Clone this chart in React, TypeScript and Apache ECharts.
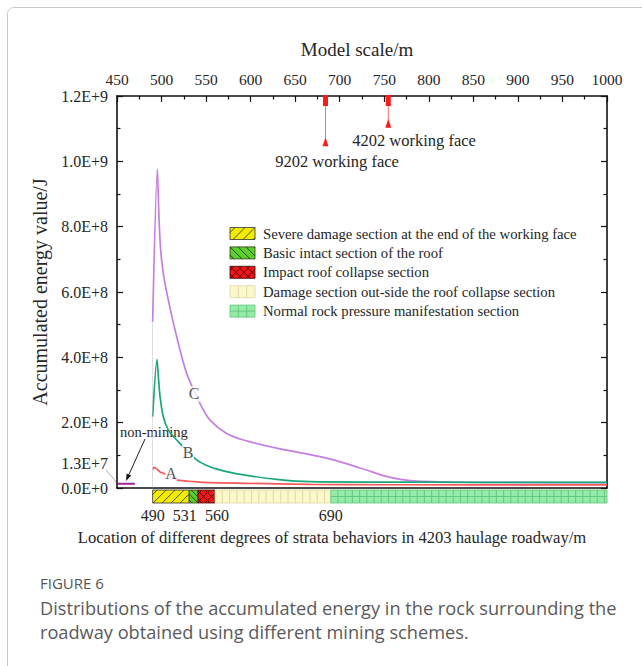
import React, { useEffect, useRef } from "react";
import * as echarts from "echarts";

// ---------- data ----------
const curveCX = [490, 495.3, 497.1, 499, 502, 507.6, 517, 528.2, 545, 554.4, 573, 592, 629, 660, 693, 730, 749, 768, 786, 824, 900, 1000];
const curveCV = [5.09e8, 9.76e8, 8.3e8, 7.29e8, 6.57e8, 5.75e8, 4.63e8, 3.51e8, 2.49e8, 2.08e8, 1.67e8, 1.47e8, 1.22e8, 1.06e8, 8.6e7, 5.5e7, 3.8e7, 2.66e7, 2.14e7, 1.84e7, 1.7e7, 1.62e7];

const curveBX = [490, 494.9, 496.7, 498.3, 502, 507.6, 517, 539.4, 554.4, 573, 592, 629, 667, 750, 850, 1000];
const curveBV = [2.18e8, 3.94e8, 3.31e8, 2.8e8, 2.18e8, 1.78e8, 1.47e8, 8.6e7, 6.5e7, 5.0e7, 4.0e7, 2.66e7, 1.93e7, 1.8e7, 1.75e7, 1.72e7];

const curveAX = [490, 491.8, 498, 502, 510, 517, 536, 554, 592, 667, 750, 1000];
const curveAV = [5.7e7, 6.3e7, 5.0e7, 4.5e7, 3.4e7, 2.5e7, 1.93e7, 1.62e7, 1.44e7, 1.13e7, 1.0e7, 9.5e6];

const nonMiningX = [451, 470];
const nonMiningV = [1.3e7, 1.3e7];

const curveLabelNames = ["C", "B", "A"];
const curveLabelX = [536.4, 529.7, 510.6];
const curveLabelV = [2.88e8, 1.1e8, 4.3e7];

const sectionStart = [490, 531, 541, 560, 690];
const sectionEnd = [531, 541, 560, 690, 1000];
const sectionNames = [
  "Severe damage section at the end of the working face",
  "Basic intact section of the roof",
  "Impact roof collapse section",
  "Damage section out-side the roof collapse section",
  "Normal rock pressure manifestation section",
];
const roadwayTicks = [490, 531, 560, 690];

const faceX = [684, 754.5];
const faceTipV = [1.074e9, 1.13e9];
const faceNames = ["9202 working face", "4202 working face"];

// ---------- styles ----------
const SERIF = "'Liberation Serif','Times New Roman',serif";
const SANS = "'Open Sans','Noto Sans',sans-serif";
const TXT = "#262626";
const AX = "#111";

const sectionFill = ["#f3ec00", "#5ccf2a", "#f21616", "#fbf8cc", "#95eba8"];
const sectionStroke = ["#333", "#2d3a1a", "#3a0a0a", "#dcd8a4", "#62c47c"];
const sectionPattern = ["fwd", "back", "cross", "vert", "grid"];
const patternColor = ["#2a2a10", "#1a2a10", "#300", "#d8d39a", "#5cbf77"];
const stripSpacing = [9, 6, 8, 7.3, 7.2];
const legendSpacing = [10, 8, 8, 8.3, 8.3];

function hatchLines(x0: number, y0: number, w: number, h: number, pat: string, sp: number) {
  const out: any[] = [];
  const x1 = x0 + w;
  const yb = y0 + h;
  const diag = (dir: number) => {
    for (let c = -h + sp / 2; c < w; c += sp) {
      let ax = x0 + c;
      let bx = x0 + c + h;
      let ay = dir > 0 ? yb : y0;
      let by = dir > 0 ? y0 : yb;
      if (ax < x0) {
        const d = x0 - ax;
        ax = x0;
        ay = dir > 0 ? ay - d : ay + d;
      }
      if (bx > x1) {
        const d = bx - x1;
        bx = x1;
        by = dir > 0 ? by + d : by - d;
      }
      if (bx > ax) out.push({ x1: ax, y1: ay, x2: bx, y2: by });
    }
  };
  if (pat === "fwd") diag(1);
  if (pat === "back") diag(-1);
  if (pat === "cross") {
    diag(1);
    diag(-1);
  }
  if (pat === "vert" || pat === "grid") {
    for (let x = x0 + sp; x < x1 - 0.5; x += sp) out.push({ x1: x, y1: y0, x2: x, y2: yb });
  }
  if (pat === "grid") {
    const yc = y0 + h / 2;
    out.push({ x1: x0, y1: yc, x2: x1, y2: yc });
  }
  return out;
}

function patchChildren(i: number, x0: number, y0: number, w: number, h: number, sp: number) {
  const lines = hatchLines(x0, y0, w, h, sectionPattern[i], sp).map((l) => ({
    type: "line",
    shape: l,
    style: { stroke: patternColor[i], lineWidth: 0.8 },
  }));
  return [
    { type: "rect", shape: { x: x0, y: y0, width: w, height: h }, style: { fill: sectionFill[i], stroke: "none" } },
    ...lines,
    { type: "rect", shape: { x: x0, y: y0, width: w, height: h }, style: { fill: "none", stroke: sectionStroke[i], lineWidth: 0.8 } },
  ];
}

function textStyle(text: string, size: number, align: string, family = SERIF, fill = TXT) {
  return {
    text,
    fill,
    fontSize: size,
    fontFamily: family,
    align,
    verticalAlign: "middle",
    textAlign: align,
    textVerticalAlign: "middle",
  };
}

const bottomLabelBase = { fontSize: 16, fontFamily: SERIF, color: TXT };

export default function App() {
  const ref = useRef<HTMLDivElement>(null);

  useEffect(() => {
    if (!ref.current) return;
    const chart = echarts.init(ref.current, undefined, { renderer: "svg" });

    const legendGraphics: any[] = sectionNames.map((name, i) => {
      const y = 233.5 + i * 19.4;
      return {
        type: "group",
        children: [
          ...patchChildren(i, 230, y - 6, 25, 12, legendSpacing[i]),
          { type: "text", x: 263, y, style: textStyle(name, 14.7, "left") },
        ],
      };
    });

    const option: any = {
      animation: false,
      backgroundColor: "#ffffff",
      textStyle: { fontFamily: SERIF },
      grid: [
        { left: 117, top: 96, width: 490, height: 392, containLabel: false, outerBoundsMode: "none" },
        { left: 117, top: 490, width: 490, height: 13, containLabel: false, outerBoundsMode: "none" },
      ],
      xAxis: [
        {
          type: "value",
          gridIndex: 0,
          position: "top",
          min: 450,
          max: 1000,
          interval: 50,
          name: "Model scale/m",
          nameLocation: "middle",
          nameGap: 37,
          nameTextStyle: { fontSize: 19, color: TXT, fontFamily: SERIF, padding: [0, 10, 0, 0] },
          axisLine: { show: true, onZero: false, lineStyle: { color: AX, width: 1.6 } },
          axisTick: { show: true, inside: true, length: 6, lineStyle: { color: AX, width: 1.2 } },
          minorTick: { show: true, splitNumber: 2, length: 3.5, lineStyle: { color: AX, width: 1.2 } },
          axisLabel: {
            show: true,
            margin: 9,
            color: TXT,
            fontSize: 15.5,
            fontFamily: SERIF,
            formatter: (v: number) => String(v),
          },
          splitLine: { show: false },
        },
        {
          type: "value",
          gridIndex: 0,
          position: "bottom",
          min: 450,
          max: 1000,
          axisLine: { show: true, onZero: false, lineStyle: { color: AX, width: 1.6 } },
          axisTick: { show: false },
          axisLabel: { show: false },
          splitLine: { show: false },
        },
        {
          type: "value",
          gridIndex: 1,
          position: "bottom",
          min: 450,
          max: 1000,
          axisLine: { show: false },
          axisTick: { show: false },
          splitLine: { show: false },
          axisLabel: {
            show: true,
            customValues: roadwayTicks,
            margin: 4,
            ...bottomLabelBase,
            formatter: (v: number) => (v === 531 ? "{l|531}" : v === 560 ? "{r|560}" : "{c|" + v + "}"),
            rich: {
              c: { ...bottomLabelBase },
              l: { ...bottomLabelBase, padding: [0, 9, 0, 0] },
              r: { ...bottomLabelBase, padding: [0, 0, 0, 4] },
            },
          },
        },
      ],
      yAxis: [
        {
          type: "value",
          gridIndex: 0,
          position: "left",
          min: 0,
          max: 1.2e9,
          interval: 2e8,
          name: "Accumulated energy value/J",
          nameLocation: "middle",
          nameGap: 61,
          nameTextStyle: { fontSize: 20, color: TXT, fontFamily: SERIF },
          axisLine: { show: true, onZero: false, lineStyle: { color: AX, width: 1.6 } },
          axisTick: { show: true, inside: true, length: 6, lineStyle: { color: AX, width: 1.2 } },
          minorTick: { show: true, splitNumber: 2, length: 3.5, lineStyle: { color: AX, width: 1.2 } },
          axisLabel: {
            margin: 9,
            color: TXT,
            fontSize: 16,
            fontFamily: SERIF,
            formatter: (v: number) => v.toExponential(1).toUpperCase(),
          },
          splitLine: { show: false },
        },
        {
          type: "value",
          gridIndex: 0,
          position: "right",
          min: 0,
          max: 1.2e9,
          interval: 2e8,
          axisLine: { show: true, onZero: false, lineStyle: { color: AX, width: 1.6 } },
          axisTick: { show: true, inside: true, length: 6, lineStyle: { color: AX, width: 1.2 } },
          minorTick: { show: true, splitNumber: 2, length: 3.5, lineStyle: { color: AX, width: 1.2 } },
          axisLabel: { show: false },
          splitLine: { show: false },
        },
        { type: "value", gridIndex: 1, min: 0, max: 1, show: false },
      ],
      series: [
        {
          name: "C",
          type: "line",
          xAxisIndex: 0,
          yAxisIndex: 0,
          data: curveCX.map((x, i) => [x, curveCV[i]]),
          symbol: "none",
          smooth: 0.25,
          lineStyle: { color: "#c47fe0", width: 1.7 },
          itemStyle: { color: "#c47fe0" },
          z: 3,
          markLine: {
            silent: true,
            symbol: ["none", "none"],
            label: { show: false },
            lineStyle: { type: "dotted", color: "#bdbdbd", width: 1 },
            data: [[{ coord: [curveCX[0], curveCV[0]] }, { coord: [curveCX[0], 0] }]],
          },
        },
        {
          name: "B",
          type: "line",
          xAxisIndex: 0,
          yAxisIndex: 0,
          data: curveBX.map((x, i) => [x, curveBV[i]]),
          symbol: "none",
          smooth: 0.25,
          lineStyle: { color: "#18a67a", width: 1.7 },
          itemStyle: { color: "#18a67a" },
          z: 3,
        },
        {
          name: "A",
          type: "line",
          xAxisIndex: 0,
          yAxisIndex: 0,
          data: curveAX.map((x, i) => [x, curveAV[i]]),
          symbol: "none",
          smooth: 0.25,
          lineStyle: { color: "#f55a5a", width: 1.7 },
          itemStyle: { color: "#f55a5a" },
          z: 3,
        },
        {
          name: "non-mining",
          type: "line",
          xAxisIndex: 0,
          yAxisIndex: 0,
          data: nonMiningX.map((x, i) => [x, nonMiningV[i]]),
          symbol: "none",
          lineStyle: { color: "#a0209f", width: 2 },
          itemStyle: { color: "#a0209f" },
          z: 3,
        },
        {
          name: "curve labels",
          type: "scatter",
          xAxisIndex: 0,
          yAxisIndex: 0,
          symbol: "rect",
          symbolSize: [12, 16],
          itemStyle: { color: "#ffffff" },
          z: 5,
          label: {
            show: true,
            position: "inside",
            formatter: (p: any) => p.name,
            color: TXT,
            fontSize: 16,
            fontFamily: SERIF,
          },
          data: curveLabelNames.map((n, i) => ({ name: n, value: [curveLabelX[i], curveLabelV[i]] })),
        },
        {
          name: "working faces",
          type: "custom",
          xAxisIndex: 0,
          yAxisIndex: 0,
          encode: { x: 0, y: 1 },
          z: 6,
          data: faceX.map((x, i) => [x, faceTipV[i]]),
          renderItem: (params: any, api: any) => {
            const x = api.value(0);
            const top = api.coord([x, 1.2e9]);
            const tip = api.coord([x, api.value(1)]);
            const px = top[0];
            return {
              type: "group",
              children: [
                { type: "rect", shape: { x: px - 2.5, y: top[1] - 1, width: 5, height: 11 }, style: { fill: "#ff1a1a" } },
                { type: "line", shape: { x1: px, y1: top[1] + 10, x2: px, y2: tip[1] + 1 }, style: { stroke: "#ff7070", lineWidth: 1 } },
                {
                  type: "polygon",
                  shape: { points: [[px, tip[1]], [px - 3, tip[1] + 9], [px + 3, tip[1] + 9]] },
                  style: { fill: "#ff1a1a" },
                },
              ],
            };
          },
        },
        {
          name: "sections",
          type: "custom",
          xAxisIndex: 2,
          yAxisIndex: 2,
          encode: { x: [0, 1] },
          data: sectionStart.map((s, i) => [s, sectionEnd[i], i]),
          renderItem: (params: any, api: any) => {
            const i = api.value(2);
            const p0 = api.coord([api.value(0), 1]);
            const p1 = api.coord([api.value(1), 0]);
            return {
              type: "group",
              children: patchChildren(i, p0[0], p0[1], p1[0] - p0[0], p1[1] - p0[1], stripSpacing[i]),
            };
          },
        },
      ],
      graphic: [
        {
          type: "rect",
          silent: true,
          z: -10,
          shape: { x: 7.5, y: 7.5, width: 900, height: 900, r: 6 },
          style: { fill: "none", stroke: "#c9c9c9", lineWidth: 1 },
        },
        ...legendGraphics,
        { type: "text", x: 337, y: 161, style: textStyle(faceNames[0], 16.5, "center") },
        { type: "text", x: 414, y: 140, style: textStyle(faceNames[1], 16.5, "center") },
        { type: "text", x: 120, y: 432, style: textStyle("non-mining", 14.5, "left") },
        { type: "line", shape: { x1: 145, y1: 439, x2: 128.9, y2: 474.6 }, style: { stroke: "#222", lineWidth: 1 } },
        { type: "polygon", shape: { points: [[126, 481], [131.2, 475.6], [126.6, 473.6]] }, style: { fill: "#111" } },
        { type: "text", x: 108, y: 463, style: textStyle("1.3E+7", 16, "right") },
        { type: "line", shape: { x1: 106, y1: 470, x2: 118, y2: 484 }, style: { stroke: "#999", lineWidth: 0.8 } },
        {
          type: "text",
          x: 332,
          y: 537,
          style: textStyle("Location of different degrees of strata behaviors in 4203 haulage roadway/m", 16.6, "center"),
        },
        { type: "text", x: 40, y: 583, style: textStyle("FIGURE 6", 15, "left", SANS, "#555") },
        {
          type: "text",
          x: 40,
          y: 608,
          style: textStyle("Distributions of the accumulated energy in the rock surrounding the", 18.2, "left", SANS, "#5a5a5a"),
        },
        {
          type: "text",
          x: 40,
          y: 632,
          style: textStyle("roadway obtained using different mining schemes.", 18.2, "left", SANS, "#5a5a5a"),
        },
      ],
    };

    chart.setOption(option);
    return () => chart.dispose();
  }, []);

  return (
    <div
      ref={ref}
      style={{ position: "absolute", left: 0, top: 0, width: 642, height: 666 }}
    />
  );
}
